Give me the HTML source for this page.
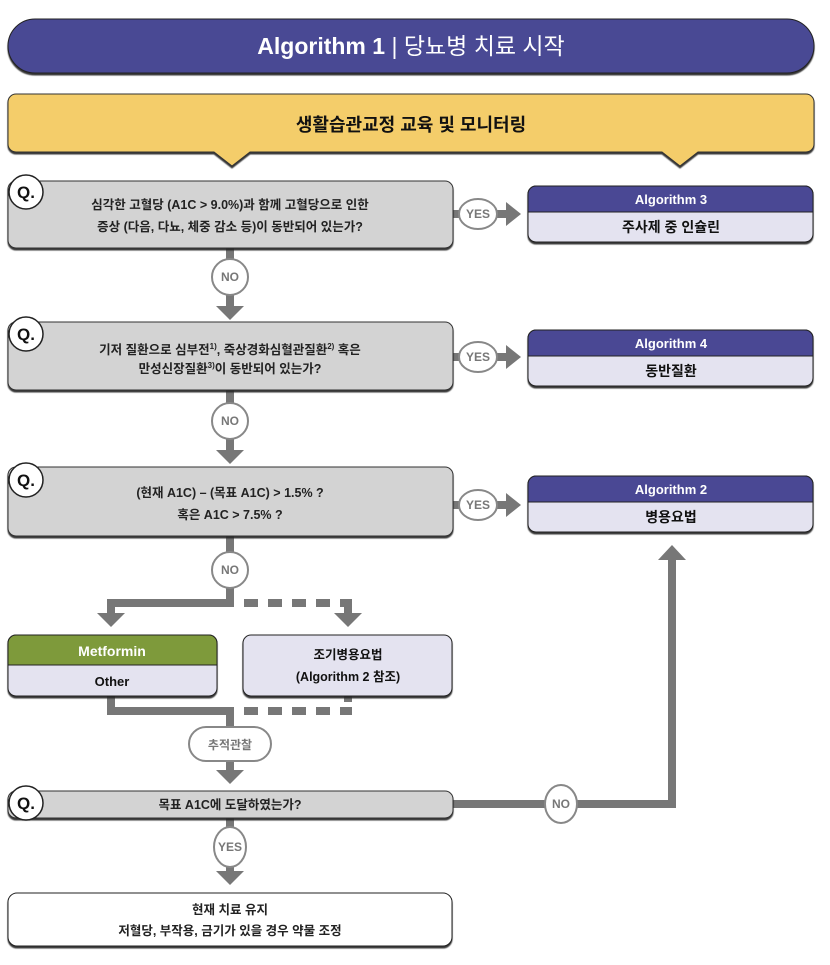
<!DOCTYPE html>
<html><head><meta charset="utf-8"><style>
body{margin:0;background:#fff;}
svg text{font-family:"Liberation Sans","Noto Sans CJK KR",sans-serif;}
</style></head><body>
<svg width="830" height="960" viewBox="0 0 830 960" xmlns="http://www.w3.org/2000/svg">
<defs>
<filter id="sh" x="-5%" y="-5%" width="110%" height="120%"><feDropShadow dx="0" dy="2" stdDeviation="0.6" flood-color="#222" flood-opacity="0.9"/></filter>
</defs>
<!-- header -->
<rect x="8" y="19" width="806" height="54" rx="27" fill="#4a4894" stroke="#222" stroke-width="1" filter="url(#sh)"/>
<text x="411" y="54" text-anchor="middle" font-size="23" fill="#fff" font-weight="bold">Algorithm 1 <tspan font-weight="normal">| 당뇨병 치료 시작</tspan></text>
<!-- yellow -->
<path d="M16 94 H806 a8 8 0 0 1 8 8 V144 a8 8 0 0 1 -8 8 H698 L680 166 L662 152 H250 L232 166 L214 152 H16 a8 8 0 0 1 -8 -8 V102 a8 8 0 0 1 8 -8Z" fill="#f4cd6a" stroke="#333" stroke-width="1" filter="url(#sh)"/>
<text x="411" y="131" text-anchor="middle" font-size="18" font-weight="bold" fill="#111">생활습관교정 교육 및 모니터링</text>

<g fill="#777" stroke="none">
<!-- vertical connectors -->
<rect x="226" y="248" width="8" height="60"/><path d="M216 306 H244 L230 320Z"/>
<rect x="226" y="390" width="8" height="62"/><path d="M216 450 H244 L230 464Z"/>
<rect x="226" y="536" width="8" height="71"/>
<rect x="107" y="599" width="123" height="8"/>
<rect x="107" y="599" width="8" height="16"/><path d="M97 613 H125 L111 627Z"/>
<rect x="244" y="599" width="14" height="8"/><rect x="268" y="599" width="14" height="8"/><rect x="292" y="599" width="14" height="8"/><rect x="316" y="599" width="14" height="8"/>
<rect x="340" y="599" width="10" height="8"/><rect x="344" y="599" width="8" height="16"/><path d="M334 613 H362 L348 627Z"/>
<!-- merge -->
<rect x="107" y="696" width="8" height="19"/><rect x="107" y="707" width="123" height="8"/>
<rect x="244" y="707" width="14" height="8"/><rect x="268" y="707" width="14" height="8"/><rect x="292" y="707" width="14" height="8"/><rect x="316" y="707" width="14" height="8"/><rect x="340" y="707" width="12" height="8"/>
<rect x="344" y="696" width="8" height="6"/>
<rect x="226" y="707" width="8" height="64"/><path d="M216 770 H244 L230 784Z"/>
<rect x="226" y="818" width="8" height="55"/><path d="M216 871 H244 L230 885Z"/>
<!-- yes arrows -->
<rect x="453" y="210" width="55" height="8"/><path d="M506 202 V226 L521 214Z"/>
<rect x="453" y="353" width="55" height="8"/><path d="M506 345 V369 L521 357Z"/>
<rect x="453" y="501" width="55" height="8"/><path d="M506 493 V517 L521 505Z"/>
<!-- NO loop -->
<rect x="453" y="800" width="223" height="8"/><rect x="668" y="558" width="8" height="250"/><path d="M658 560 H686 L672 545Z"/>
</g>
<!-- circles -->
<g fill="#fff" stroke="#888" stroke-width="2" font-weight="bold">
<circle cx="230" cy="277" r="18"/><circle cx="230" cy="421" r="18"/><circle cx="230" cy="570" r="18"/>
<ellipse cx="230" cy="847" rx="16" ry="20"/><ellipse cx="561" cy="804" rx="16" ry="19"/>
<ellipse cx="478" cy="214" rx="19" ry="15"/><ellipse cx="478" cy="357" rx="19" ry="15"/><ellipse cx="478" cy="505" rx="19" ry="15"/>
</g>
<g font-size="12" font-weight="bold" fill="#777" text-anchor="middle">
<text x="230" y="281">NO</text><text x="230" y="425">NO</text><text x="230" y="574">NO</text>
<text x="230" y="851">YES</text><text x="561" y="808">NO</text>
<text x="478" y="218">YES</text><text x="478" y="361">YES</text><text x="478" y="509">YES</text>
</g>
<!-- Q boxes -->
<g fill="#d3d3d3" stroke="#333" stroke-width="1" filter="url(#sh)">
<rect x="8" y="181" width="445" height="67" rx="8"/>
<rect x="8" y="322" width="445" height="68" rx="8"/>
<rect x="8" y="467" width="445" height="69" rx="8"/>
<rect x="8" y="791" width="445" height="27" rx="8"/>
</g>
<g fill="#fff" stroke="#222" stroke-width="1.5">
<circle cx="26" cy="192" r="17"/><circle cx="26" cy="334" r="17"/><circle cx="26" cy="480" r="17"/><circle cx="26" cy="803" r="17"/>
</g>
<g font-size="17" font-weight="bold" fill="#111" text-anchor="middle">
<text x="26" y="198">Q.</text><text x="26" y="340">Q.</text><text x="26" y="486">Q.</text><text x="26" y="809">Q.</text>
</g>
<g font-size="12.5" font-weight="bold" fill="#222" text-anchor="middle">
<text x="230" y="209">심각한 고혈당 (A1C &gt; 9.0%)과 함께 고혈당으로 인한</text>
<text x="230" y="231">증상 (다음, 다뇨, 체중 감소 등)이 동반되어 있는가?</text>
<text x="230" y="354">기저 질환으로 심부전<tspan font-size="8" dy="-5">1)</tspan><tspan dy="5">, 죽상경화심혈관질환</tspan><tspan font-size="8" dy="-5">2)</tspan><tspan dy="5"> 혹은</tspan></text>
<text x="230" y="373">만성신장질환<tspan font-size="8" dy="-5">3)</tspan><tspan dy="5">이 동반되어 있는가?</tspan></text>
<text x="230" y="497">(현재 A1C) – (목표 A1C) &gt; 1.5% ?</text>
<text x="230" y="519">혹은 A1C &gt; 7.5% ?</text>
<text x="230" y="809">목표 A1C에 도달하였는가?</text>
</g>
<!-- algorithm boxes -->
<g stroke="#222" stroke-width="1" filter="url(#sh)">
<rect x="528" y="186" width="285" height="56" rx="8" fill="#e4e3f0"/>
<rect x="528" y="330" width="285" height="56" rx="8" fill="#e4e3f0"/>
<rect x="528" y="476" width="285" height="56" rx="8" fill="#e4e3f0"/>
</g>
<g fill="#4a4894" stroke="#222" stroke-width="1">
<path d="M536 186 H805 a8 8 0 0 1 8 8 V212 H528 V194 a8 8 0 0 1 8 -8Z"/>
<path d="M536 330 H805 a8 8 0 0 1 8 8 V356 H528 V338 a8 8 0 0 1 8 -8Z"/>
<path d="M536 476 H805 a8 8 0 0 1 8 8 V502 H528 V484 a8 8 0 0 1 8 -8Z"/>
</g>
<g text-anchor="middle" font-weight="bold">
<text x="671" y="204" font-size="13" fill="#fff">Algorithm 3</text>
<text x="671" y="232" font-size="14" fill="#111">주사제 중 인슐린</text>
<text x="671" y="348" font-size="13" fill="#fff">Algorithm 4</text>
<text x="671" y="376" font-size="14" fill="#111">동반질환</text>
<text x="671" y="494" font-size="13" fill="#fff">Algorithm 2</text>
<text x="671" y="522" font-size="14" fill="#111">병용요법</text>
</g>
<!-- metformin -->
<rect x="8" y="635" width="209" height="61" rx="8" fill="#e4e3f0" stroke="#222" filter="url(#sh)"/>
<path d="M16 635 H209 a8 8 0 0 1 8 8 V665 H8 V643 a8 8 0 0 1 8 -8Z" fill="#7e9a3b" stroke="#222"/>
<text x="112" y="656" text-anchor="middle" font-size="14" font-weight="bold" fill="#fff">Metformin</text>
<text x="112" y="686" text-anchor="middle" font-size="13" font-weight="bold" fill="#111">Other</text>
<rect x="243" y="635" width="209" height="61" rx="8" fill="#e4e3f0" stroke="#222" filter="url(#sh)"/>
<text x="348" y="659" text-anchor="middle" font-size="12.5" font-weight="bold" fill="#111">조기병용요법</text>
<text x="348" y="681" text-anchor="middle" font-size="12.5" font-weight="bold" fill="#111">(Algorithm 2 참조)</text>
<!-- follow-up pill -->
<rect x="189" y="727" width="82" height="34" rx="17" fill="#fff" stroke="#888" stroke-width="2"/>
<text x="230" y="749" text-anchor="middle" font-size="12" font-weight="bold" fill="#777">추적관찰</text>
<!-- final -->
<rect x="8" y="893" width="444" height="53" rx="9" fill="#fff" stroke="#222" filter="url(#sh)"/>
<text x="230" y="914" text-anchor="middle" font-size="12.5" font-weight="bold" fill="#222">현재 치료 유지</text>
<text x="230" y="935" text-anchor="middle" font-size="12.5" font-weight="bold" fill="#222">저혈당, 부작용, 금기가 있을 경우 약물 조정</text>
</svg>
</body></html>
